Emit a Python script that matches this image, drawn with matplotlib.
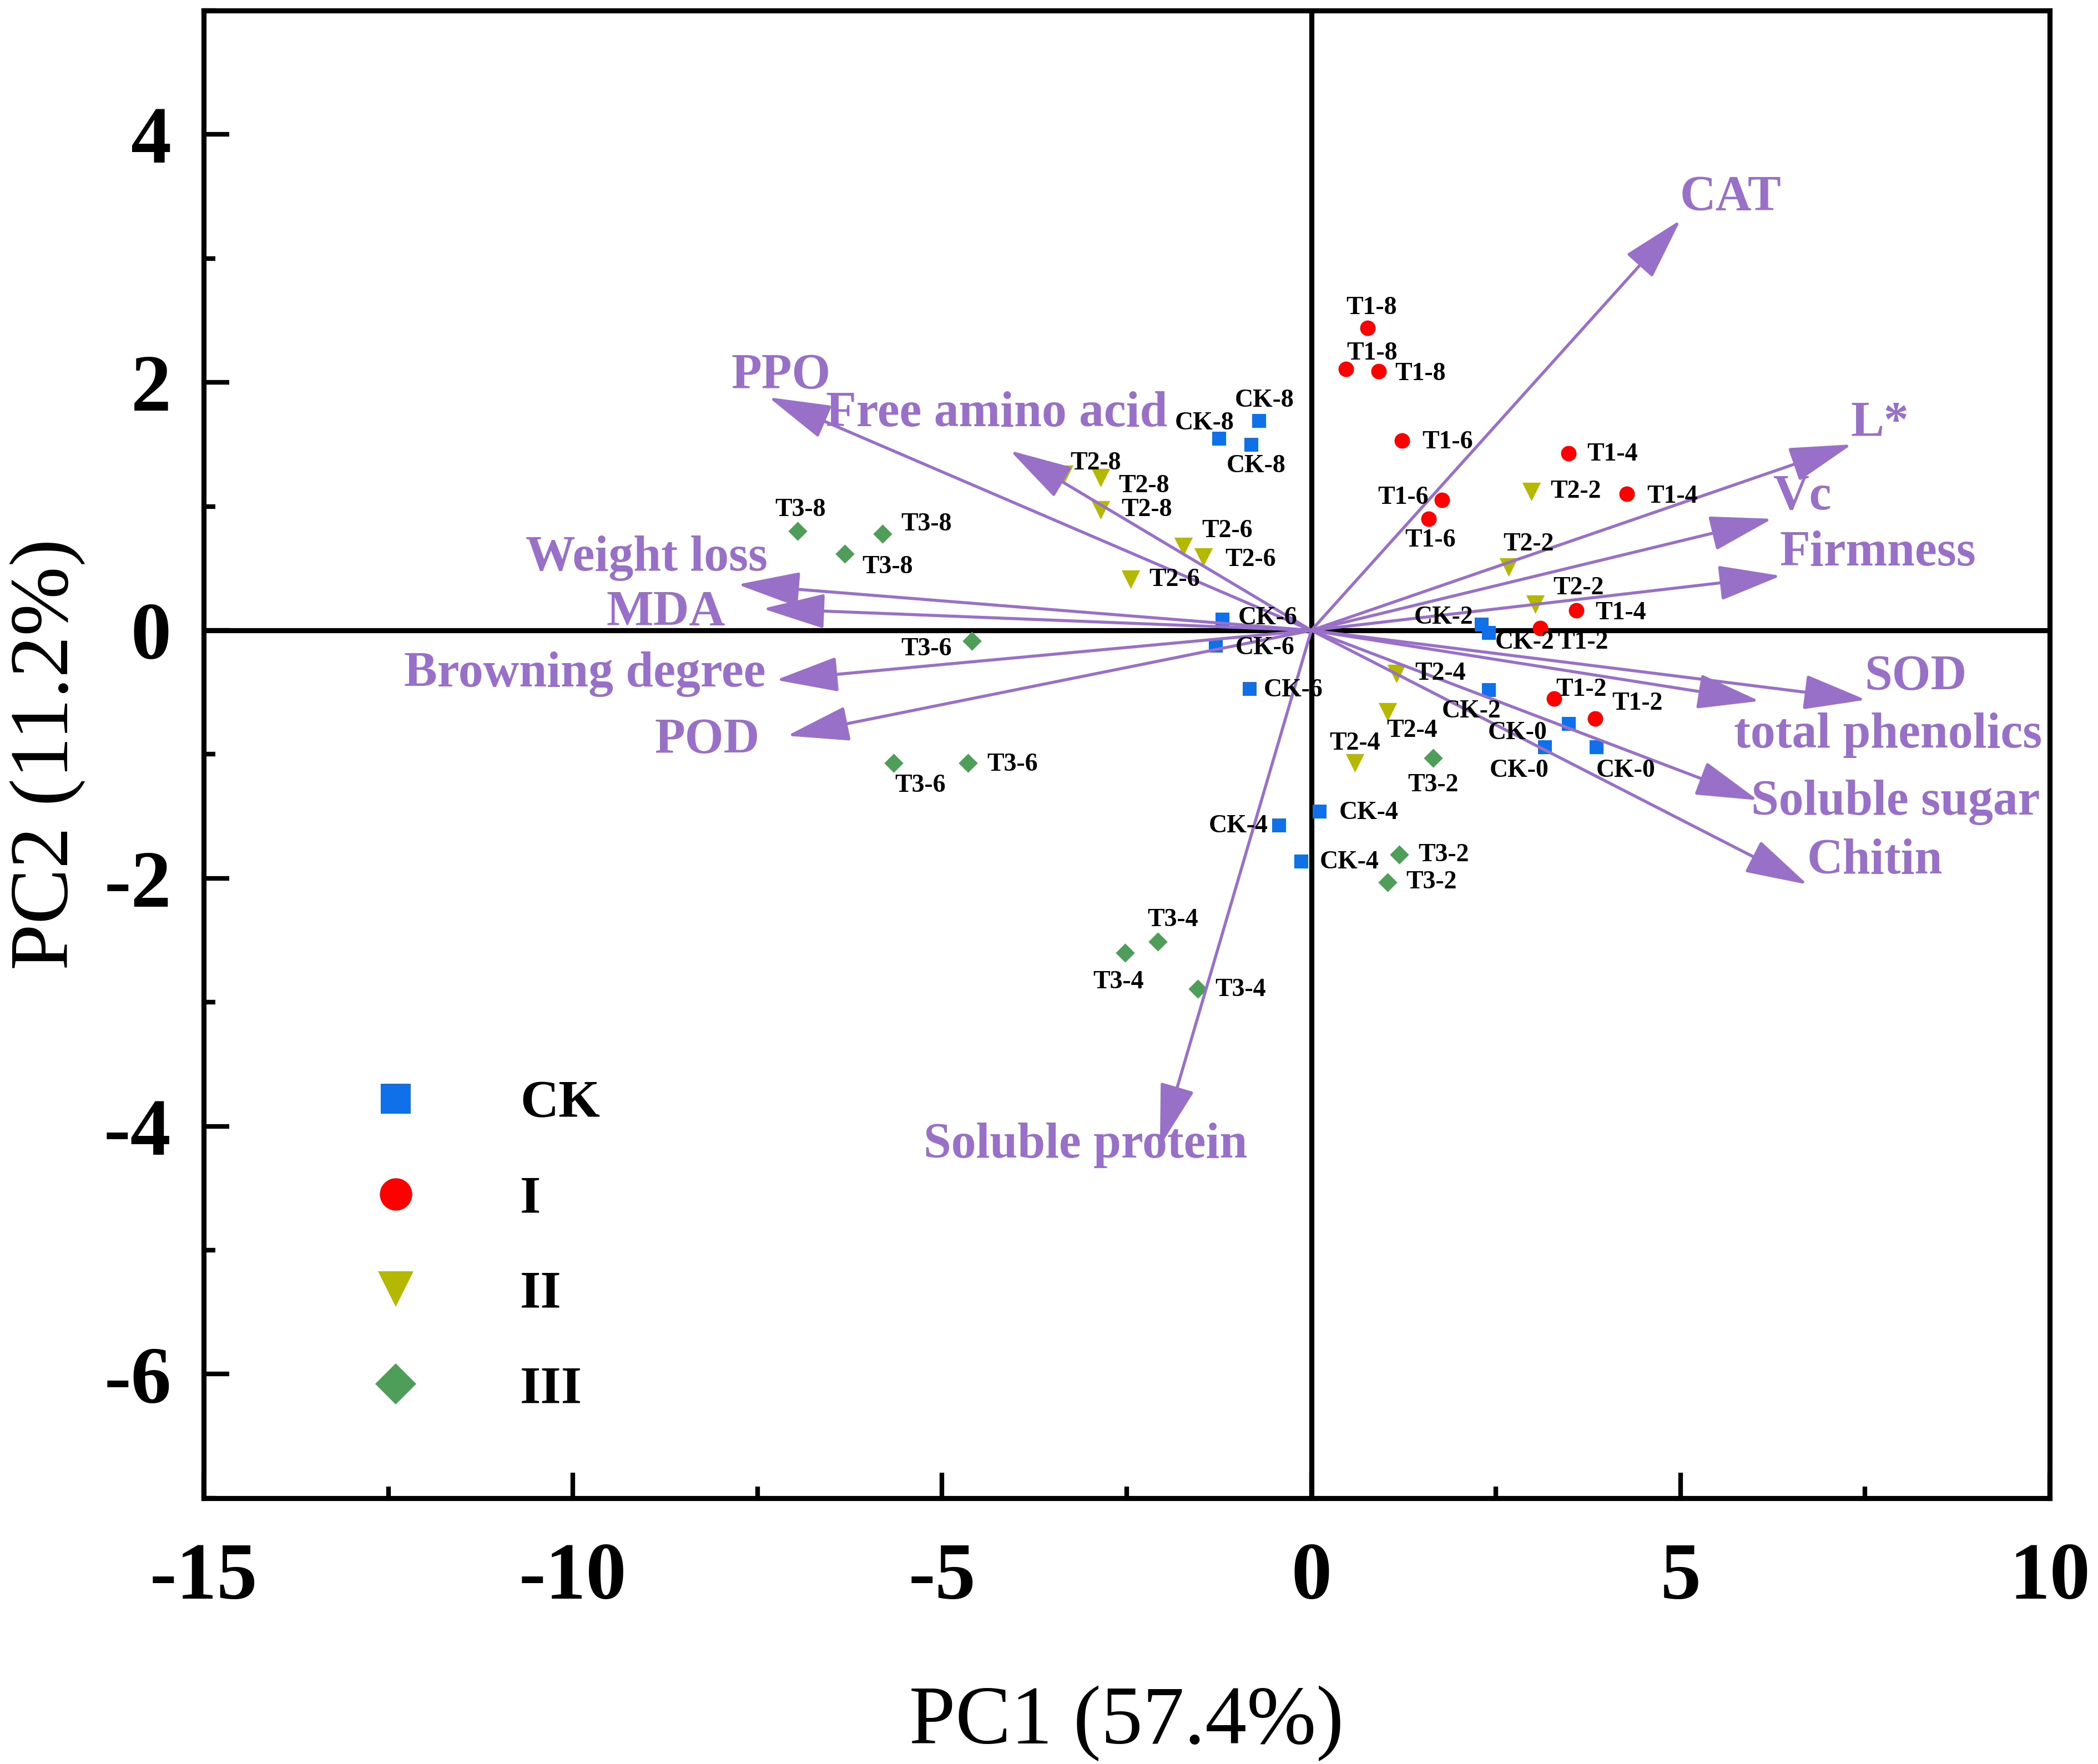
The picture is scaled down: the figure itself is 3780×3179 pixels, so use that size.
import matplotlib

matplotlib.use("Agg")
import matplotlib.pyplot as plt
from matplotlib.lines import Line2D
from matplotlib.ticker import MultipleLocator

plt.rcParams["font.family"] = ["Liberation Serif", "DejaVu Serif"]
plt.rcParams["axes.unicode_minus"] = False

# sample scores (PC1, PC2)
ck_x = [-0.71, -1.25, -0.82, -1.21, -1.30, -0.84, 2.30, 2.40, 2.40, 3.48, 3.16, 3.86, 0.11, -0.44, -0.14]
ck_y = [1.69, 1.55, 1.50, 0.09, -0.12, -0.47, 0.05, -0.02, -0.48, -0.75, -0.94, -0.94, -1.46, -1.57, -1.86]
ck_lab = ["CK-8"] * 3 + ["CK-6"] * 3 + ["CK-2"] * 3 + ["CK-0"] * 3 + ["CK-4"] * 3

t1_x = [0.76, 0.47, 0.91, 1.23, 1.77, 1.59, 3.48, 4.27, 3.59, 3.10, 3.29, 3.84]
t1_y = [2.44, 2.11, 2.09, 1.53, 1.05, 0.90, 1.43, 1.10, 0.16, 0.02, -0.55, -0.71]
t1_lab = ["T1-8"] * 3 + ["T1-6"] * 3 + ["T1-4"] * 3 + ["T1-2"] * 3

t2_x = [-3.35, -2.85, -2.85, -1.73, -1.46, -2.45, 2.98, 2.67, 3.03, 1.15, 1.03, 0.59]
t2_y = [1.26, 1.23, 0.97, 0.675, 0.59, 0.41, 1.12, 0.51, 0.21, -0.35, -0.66, -1.07]
t2_lab = ["T2-8"] * 3 + ["T2-6"] * 3 + ["T2-2"] * 3 + ["T2-4"] * 3

t3_x = [-6.96, -5.81, -6.32, -4.60, -5.66, -4.65, 1.65, 1.19, 1.03, -2.08, -2.52, -1.54]
t3_y = [0.80, 0.78, 0.62, -0.085, -1.07, -1.07, -1.03, -1.81, -2.03, -2.51, -2.60, -2.89]
t3_lab = ["T3-8"] * 3 + ["T3-6"] * 3 + ["T3-2"] * 3 + ["T3-4"] * 3

# variable loadings (arrow tips)
var_names = ["PPO", "Free amino acid", "Weight loss", "MDA", "Browning degree", "POD",
             "Soluble protein", "CAT", "L*", "Vc", "Firmness", "SOD", "total phenolics",
             "Soluble sugar", "Chitin"]
var_x = [-7.35, -4.08, -7.77, -7.43, -7.25, -7.10, -2.05, 5.00, 7.32, 6.24, 6.36, 7.51, 6.07, 6.05, 6.72]
var_y = [1.88, 1.45, 0.37, 0.175, -0.40, -0.85, -4.16, 3.31, 1.50, 0.90, 0.44, -0.56, -0.57, -1.37, -2.05]

# where the variable names sit (centre x, baseline y)
var_text_pos = [(-7.18, 1.95), (-4.26, 1.65), (-9.00, 0.485), (-8.74, 0.04), (-9.84, -0.45),
                (-8.18, -0.99), (-3.06, -4.25), (5.68, 3.39), (7.70, 1.57), (6.65, 0.975),
                (7.67, 0.525), (8.18, -0.477), (7.81, -0.946), (7.91, -1.487), (7.63, -1.96)]

# sample label offsets in points
ck_off = [(2.3, 8.7), (-6.4, 6.4), (2.3, -9.3), (19.7, 0.6), (21.4, -1.2), (19.1, -0.6),
          (-16.2, 2.9), (15.6, -4.1), (-7.5, -9.3), (-22, -4.1), (-11, -10.4), (12.7, -10.4),
          (21.4, -0.6), (-17.4, -0.6), (20.8, -0.6)]
t1_off = [(1.7, 8.7), (11.3, 6.7), (18, -1.2), (19.7, -0.6), (-16.8, 1.2), (0.6, -9.3),
          (19.1, -0.6), (19.7, -1.2), (19.1, -1.2), (18.5, -6.4), (11.6, 3.8), (18.3, 6.4)]
t2_off = [(13.6, 4.6), (18.5, -3.5), (19.7, 0), (18.8, 6.9), (20.3, -1.2), (19.1, 0),
          (19.1, 0), (8.7, 9.8), (18.8, 6.9), (19.1, 0), (10.7, -8.1), (0, 8.4)]
t3_off = [(1.2, 9.3), (19.1, 4.1), (18.5, -5.8), (-19.7, -3.5), (11.6, -9.8), (19.1, -0.6),
          (0, -11.6), (19.1, 0), (19.1, 0), (6.4, 9.3), (-2.9, -12.7), (18.5, -0.6)]

PURPLE = "#9970C8"


def main() -> None:
    fig = plt.figure(figsize=(12.6, 10.597), dpi=300)
    ax = fig.add_axes([0.0971, 0.1507, 0.977 - 0.0971, 0.994 - 0.1507])

    ax.axhline(0, color="black", lw=2.2, zorder=1)
    ax.axvline(0, color="black", lw=2.2, zorder=1)

    groups = [
        (ck_x, ck_y, ck_lab, ck_off, "s", "#1070EA", 36, "CK", 12.8),
        (t1_x, t1_y, t1_lab, t1_off, "o", "#FF0000", 45, "I", 14),
        (t2_x, t2_y, t2_lab, t2_off, "v", "#B5B800", 64, "II", 15.5),
        (t3_x, t3_y, t3_lab, t3_off, "D", "#4E9E5A", 34, "III", 12.6),
    ]
    handles = []
    for xs, ys, labs, offs, mk, col, size, name, leg_ms in groups:
        ax.scatter(xs, ys, marker=mk, s=size, color=col, linewidths=0, zorder=2)
        for x, y, lab, (dx, dy) in zip(xs, ys, labs, offs):
            ax.annotate(lab, (x, y), xytext=(dx, dy), textcoords="offset points",
                        ha="center", va="center", fontsize=11, fontweight="bold", zorder=4)
        handles.append(Line2D([], [], ls="none", marker=mk, color=col, markersize=leg_ms,
                              markeredgewidth=0, label=name))

    for name, vx, vy, (tx, ty) in zip(var_names, var_x, var_y, var_text_pos):
        ax.annotate("", xy=(vx, vy), xytext=(0, 0),
                    arrowprops=dict(arrowstyle="-|>,head_length=2.35,head_width=0.66",
                                    mutation_scale=10, color=PURPLE, lw=1.3,
                                    shrinkA=0, shrinkB=0), zorder=3)
        ax.text(tx, ty, name, color=PURPLE, fontsize=21.5, fontweight="bold",
                ha="center", va="baseline", zorder=4)

    ax.set_xlim(-15, 10)
    ax.set_ylim(-7, 5)
    ax.set_xticks([-15, -10, -5, 0, 5, 10])
    ax.set_yticks([-6, -4, -2, 0, 2, 4])
    ax.xaxis.set_minor_locator(MultipleLocator(2.5))
    ax.yaxis.set_minor_locator(MultipleLocator(1))
    ax.tick_params(which="both", direction="in", width=2, top=False, right=False)
    ax.tick_params(which="major", length=11, labelsize=35)
    ax.tick_params(which="minor", length=5)
    ax.tick_params(axis="x", which="major", pad=19)
    ax.tick_params(axis="y", which="major", pad=14)
    for lab in ax.get_xticklabels() + ax.get_yticklabels():
        lab.set_fontweight("bold")
    for sp in ax.spines.values():
        sp.set_linewidth(2.2)

    ax.set_xlabel("PC1 (57.4%)", fontsize=36, labelpad=30)
    ax.set_ylabel("PC2 (11.2%)", fontsize=36, labelpad=8)

    ax.legend(handles=handles, loc="upper left", bbox_to_anchor=(0.0896, 0.281),
              frameon=False, borderpad=0, borderaxespad=0, handlelength=1.0,
              handletextpad=1.84, labelspacing=0.88,
              prop={"family": "Liberation Serif", "weight": "bold", "size": 23})

    fig.savefig("out.png", dpi=300)


if __name__ == "__main__":
    main()
